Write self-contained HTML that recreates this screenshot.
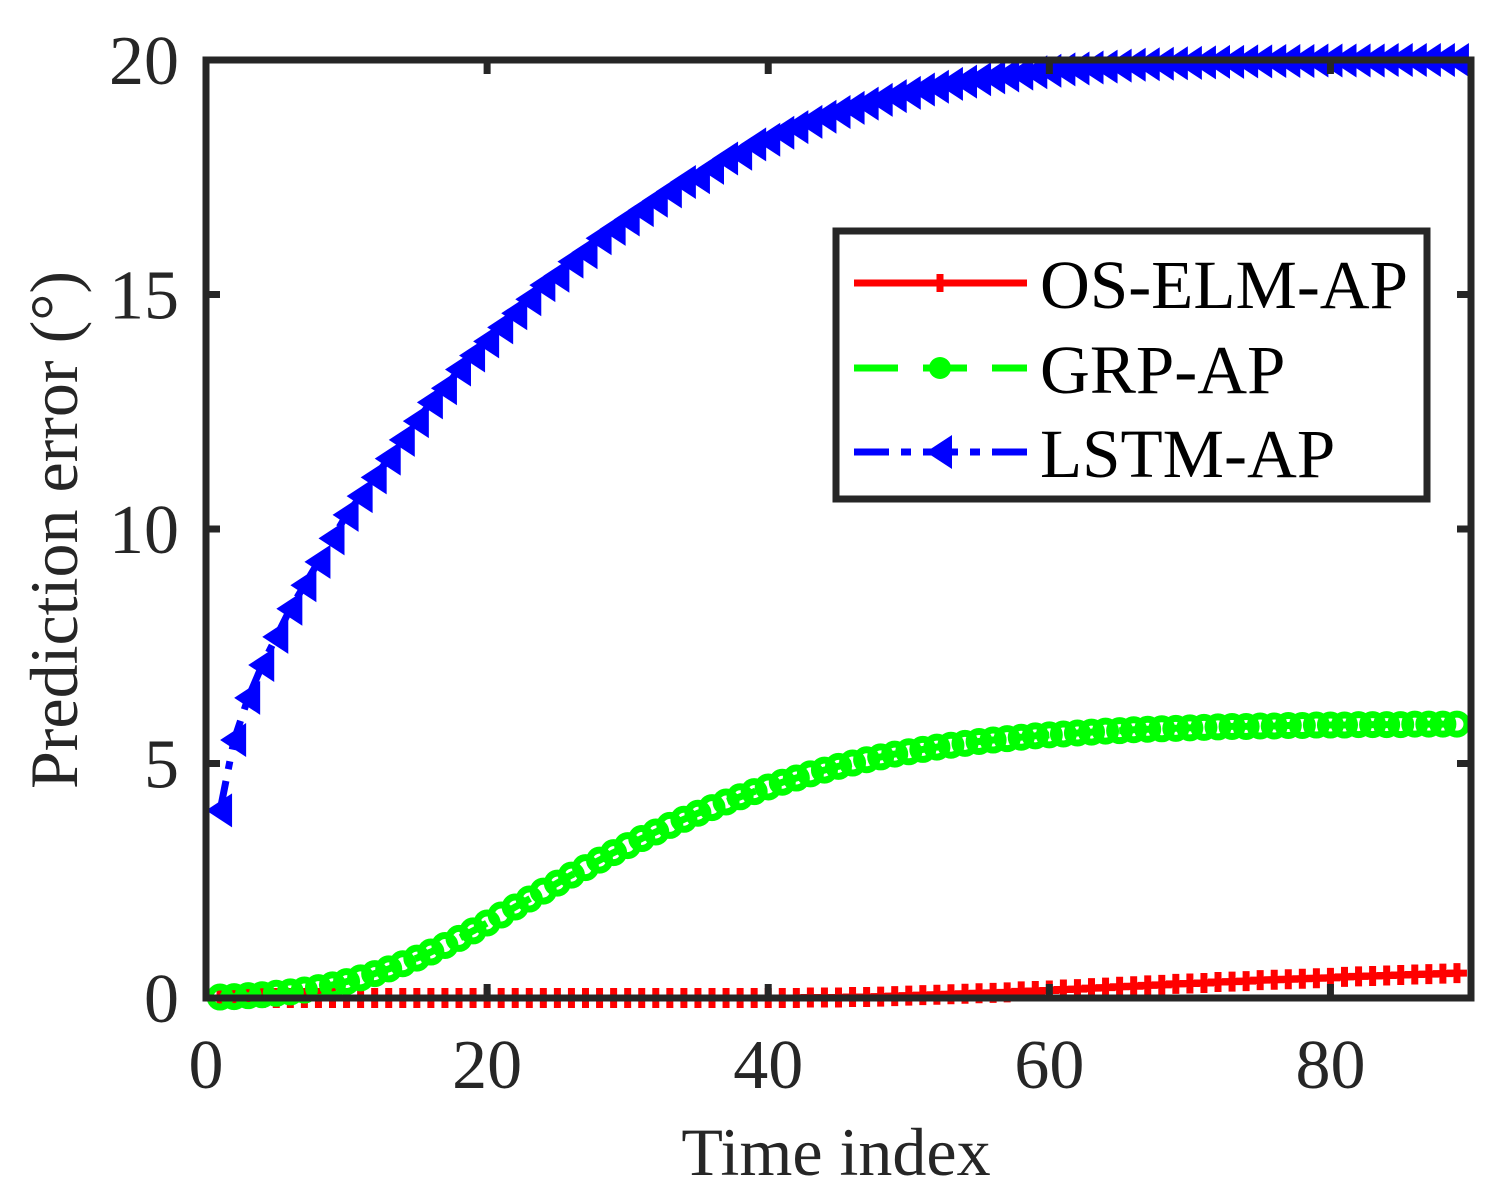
<!DOCTYPE html>
<html><head><meta charset="utf-8"><style>
html,body{margin:0;padding:0;background:#fff;}
svg text{font-family:"Liberation Serif",serif;fill:#262626;}
</style></head><body>
<svg id="chart" width="1501" height="1190" viewBox="0 0 1501 1190" xmlns="http://www.w3.org/2000/svg">
<rect x="0" y="0" width="1501" height="1190" fill="#fff"/>
<g id="series"></g>
<g id="axes"></g>
<text x="836" y="1175" font-size="68" text-anchor="middle">Time index</text>
<text transform="translate(77,530) rotate(-90)" font-size="68" text-anchor="middle">Prediction error (°)</text>
<g id="legend"></g>
</svg>
<script>
const xTicks = [0, 20, 40, 60, 80];
const yTicks = [0, 5, 10, 15, 20];
const seriesNames = ["OS-ELM-AP", "GRP-AP", "LSTM-AP"];
const osElm = [0,0,0,0,0,0,0,0,0,0, 0,0,0,0,0,0,0,0,0,0, 0,0,0,0,0,0,0,0,0,0, 0,0,0,0,0,0,0,0,0,0,
0,0,0.01,0.01,0.01,0.02,0.02,0.03,0.04,0.05,
0.06,0.07,0.08,0.09,0.1,0.11,0.12,0.14,0.15,0.16,
0.18,0.19,0.21,0.22,0.24,0.25,0.27,0.28,0.3,0.31,
0.32,0.34,0.35,0.36,0.38,0.39,0.4,0.41,0.42,0.43,
0.45,0.46,0.47,0.48,0.49,0.5,0.51,0.52,0.53];
const grp = [0.02,0.03,0.05,0.07,0.1,0.13,0.17,0.22,0.28,0.35,
0.43,0.52,0.62,0.73,0.85,0.98,1.12,1.27,1.43,1.6,
1.77,1.94,2.11,2.28,2.45,2.62,2.78,2.94,3.1,3.25,
3.4,3.54,3.68,3.81,3.94,4.06,4.18,4.29,4.4,4.5,
4.6,4.69,4.78,4.86,4.94,5.01,5.08,5.14,5.2,5.25,
5.3,5.35,5.39,5.43,5.47,5.5,5.53,5.56,5.59,5.61,
5.63,5.65,5.67,5.69,5.7,5.72,5.73,5.74,5.75,5.76,
5.77,5.78,5.79,5.79,5.8,5.8,5.81,5.81,5.82,5.82,
5.82,5.83,5.83,5.83,5.83,5.84,5.84,5.84,5.84];
const lstm = [4.0,5.5,6.4,7.1,7.7,8.3,8.8,9.3,9.8,10.3,
10.7,11.1,11.5,11.9,12.3,12.7,13.0,13.4,13.7,14.0,
14.3,14.6,14.9,15.2,15.4,15.7,15.9,16.2,16.4,16.6,
16.8,17.0,17.2,17.4,17.5,17.7,17.9,18.0,18.2,18.3,
18.45,18.57,18.68,18.79,18.89,18.98,19.07,19.15,19.23,19.3,
19.37,19.43,19.49,19.54,19.59,19.63,19.67,19.71,19.74,19.77,
19.8,19.82,19.84,19.86,19.88,19.9,19.91,19.92,19.93,19.94,
19.95,19.96,19.96,19.97,19.97,19.98,19.98,19.98,19.99,19.99,
19.99,19.99,19.99,20,20,20,20,20,20];

const NS = "http://www.w3.org/2000/svg";
const L = 206, R = 1471, T = 60, B = 998;
const xMin = 0, xMax = 90, yMin = 0, yMax = 20;
function xs(v){ return L + (v - xMin) / (xMax - xMin) * (R - L); }
function ys(v){ return B - (v - yMin) / (yMax - yMin) * (B - T); }
function mk(tag, attrs, parent){
  const e = document.createElementNS(NS, tag);
  for (const k in attrs) e.setAttribute(k, attrs[k]);
  parent.appendChild(e);
  return e;
}
const gS = document.getElementById('series');
const gA = document.getElementById('axes');
const gL = document.getElementById('legend');

function plus(g, cx, cy, s){
  return mk('path', {d:`M${cx-s} ${cy}H${cx+s}M${cx} ${cy-s}V${cy+s}`, stroke:'#ff0000', 'stroke-width':7, fill:'none'}, g);
}
function tri(g, cx, cy){
  return mk('path', {d:`M${cx-14} ${cy}L${cx+12} ${cy-17}L${cx+12} ${cy+17}Z`, fill:'#0000ff'}, g);
}

function drawSeries(data, color, dash, kind, name){
  const g = mk('g', {}, gS);
  
  
  const pts = data.map((v,i)=> xs(i+1).toFixed(1)+','+ys(v).toFixed(1)).join(' ');
  const line = mk('polyline', {points:pts, fill:'none', stroke:color, 'stroke-width':7, 'stroke-dasharray':dash, 'stroke-linejoin':'round'}, g);
  
  
  data.forEach((v,i)=>{
    const cx = xs(i+1), cy = ys(v);
    let m;
    if (kind === 'plus') m = plus(g, cx, cy, 10);
    else if (kind === 'circle') m = mk('circle', {cx:cx, cy:cy, r:10, fill:'none', stroke:color, 'stroke-width':7}, g);
    else m = tri(g, cx, cy);
    
    
  });
}
drawSeries(osElm, '#ff0000', 'none', 'plus', 'os-elm-ap');
drawSeries(grp, '#00ff00', '30,20', 'circle', 'grp-ap');
drawSeries(lstm, '#0000ff', '30,12,8,12', 'tri', 'lstm-ap');

const box = mk('rect', {x:L, y:T, width:R-L, height:B-T, fill:'none', stroke:'#262626', 'stroke-width':7}, gA);


xTicks.forEach(v=>{
  const x = xs(v);
  const t = mk('path', {d:`M${x} ${B}V${B-14}M${x} ${T}V${T+14}`, stroke:'#262626', 'stroke-width':7}, gA);
  
  
  const lb = mk('text', {x:x, y:1088, 'font-size':70, 'text-anchor':'middle'}, gA);
  lb.textContent = v;
  
  
});
yTicks.forEach(v=>{
  const y = ys(v);
  const t = mk('path', {d:`M${L} ${y}H${L+14}M${R} ${y}H${R-14}`, stroke:'#262626', 'stroke-width':7}, gA);
  
  
  const lb = mk('text', {x:179, y:y+24, 'font-size':70, 'text-anchor':'end'}, gA);
  lb.textContent = v;
  
  
});

const lb = mk('rect', {x:836, y:231, width:591, height:268, fill:'#fff', stroke:'#262626', 'stroke-width':7}, gL);


const legY = [283, 368, 452];
const legColors = ['#ff0000', '#00ff00', '#0000ff'];
const legDash = ['none', '44,25', '35,12,10,12'];
seriesNames.forEach((n,i)=>{
  const g = mk('g', {}, gL);
  
  
  mk('line', {x1:854, x2:1027, y1:legY[i], y2:legY[i], stroke:legColors[i], 'stroke-width':7, 'stroke-dasharray':legDash[i]}, g);
  if (i===0) plus(g, 940, legY[i], 9);
  else if (i===1) mk('circle', {cx:940, cy:legY[i], r:11, fill:'#00ff00'}, g);
  else tri(g, 940, legY[i]);
  const t = mk('text', {x:1040, y:legY[i]+25, 'font-size':69}, g);
  t.setAttribute('style', 'fill:#000');
  t.textContent = n;
  
  
});
</script>
</body></html>
